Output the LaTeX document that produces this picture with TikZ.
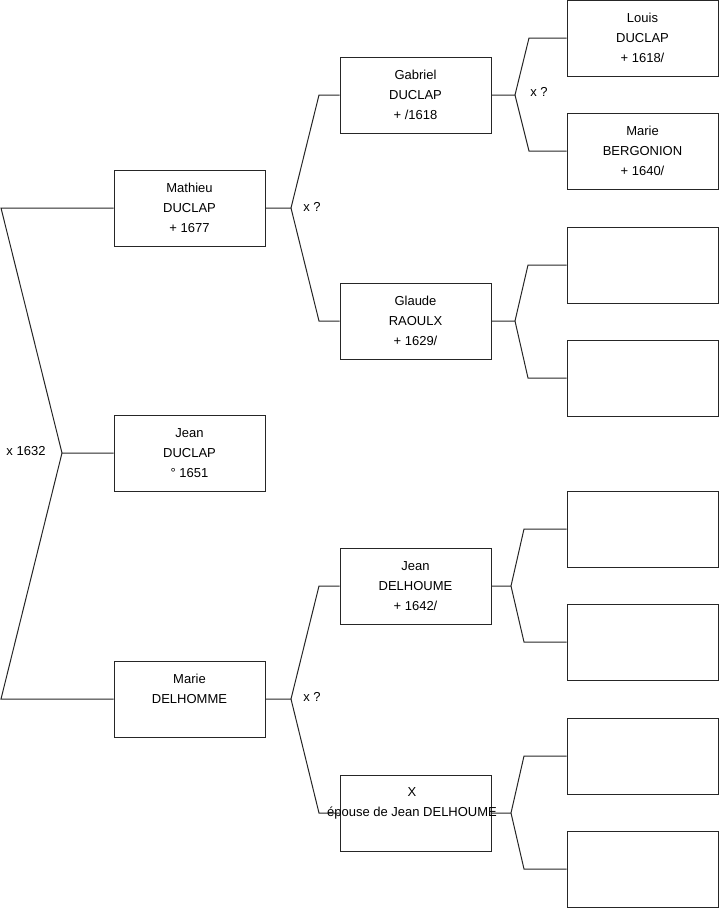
\documentclass[tikz,border=0pt]{standalone}
\usepackage{fontspec}
\setmainfont{Liberation Sans}
\begin{document}
\begin{tikzpicture}[x=1pt,y=-1pt,
  person/.style={draw=black!85,line width=1pt,minimum width=151pt,minimum height=76pt,inner sep=0pt,align=center,font=\fontsize{13}{20}\selectfont},
  lab/.style={inner sep=0pt,font=\fontsize{13}{20}\selectfont},
  conn/.style={draw=black!85,line width=1pt}]
\useasboundingbox (0,0) rectangle (719,908);
% level 1
\node[person] (mathieu) at (189.5,208) {Mathieu\\DUCLAP\\+ 1677};
\node[person] (jean) at (189.5,453) {Jean\\DUCLAP\\° 1651};
\node[person] (marie) at (189.5,699) {Marie\\DELHOMME\\\mbox{}};
% level 2
\node[person] (gabriel) at (415.5,95) {Gabriel\\DUCLAP\\+ /1618};
\node[person] (glaude) at (415.5,321) {Glaude\\RAOULX\\+ 1629/};
\node[person] (jeand) at (415.5,586) {Jean\\DELHOUME\\+ 1642/};
\node[person] (xx) at (415.5,813) {};
% level 3
\node[person] (louis) at (642.5,38) {Louis\\DUCLAP\\+ 1618/};
\node[person] (marieb) at (642.5,151) {Marie\\BERGONION\\+ 1640/};
\node[person] (e1) at (642.5,265) {};
\node[person] (e2) at (642.5,378) {};
\node[person] (e3) at (642.5,529) {};
\node[person] (e4) at (642.5,642) {};
\node[person] (e5) at (642.5,756) {};
\node[person] (e6) at (642.5,869) {};
% connectors
\coordinate (r0) at (1,208);
\coordinate (j0) at (62,453);
\coordinate (r1) at (1,699);
\draw[conn] (mathieu.west) -- (r0) -- (j0) -- (jean.west);
\draw[conn] (j0) -- (r1) -- (marie.west);
\coordinate (jm) at (291,208);
\coordinate (jm1) at (319,95);
\coordinate (jm2) at (319,321);
\draw[conn] (mathieu.east) -- (jm) -- (jm1) -- (gabriel.west);
\draw[conn] (jm) -- (jm2) -- (glaude.west);
\coordinate (jw) at (291,699);
\coordinate (jw1) at (319,586);
\coordinate (jw2) at (319,813);
\draw[conn] (marie.east) -- (jw) -- (jw1) -- (jeand.west);
\draw[conn] (jw) -- (jw2) -- (xx.west);
\coordinate (jg) at (515,95);
\coordinate (jg1) at (529,38);
\coordinate (jg2) at (529,151);
\draw[conn] (gabriel.east) -- (jg) -- (jg1) -- (louis.west);
\draw[conn] (jg) -- (jg2) -- (marieb.west);
\coordinate (jr) at (515,321);
\coordinate (jr1) at (528,265);
\coordinate (jr2) at (528,378);
\draw[conn] (glaude.east) -- (jr) -- (jr1) -- (e1.west);
\draw[conn] (jr) -- (jr2) -- (e2.west);
\coordinate (jd) at (511,586);
\coordinate (jd1) at (524,529);
\coordinate (jd2) at (524,642);
\draw[conn] (jeand.east) -- (jd) -- (jd1) -- (e3.west);
\draw[conn] (jd) -- (jd2) -- (e4.west);
\coordinate (jx) at (511,813);
\coordinate (jx1) at (524,756);
\coordinate (jx2) at (524,869);
\draw[conn] (xx.east) -- (jx) -- (jx1) -- (e5.west);
\draw[conn] (jx) -- (jx2) -- (e6.west);
% text of X box (overflows)
\node[lab,align=center] (xtext) at (412,812) {X\\épouse de Jean DELHOUME\\\mbox{}};
% labels
\node[lab] (l0) at (26,451) {x 1632};
\node[lab] (l1) at (312,207) {x ?};
\node[lab] (l2) at (312,697) {x ?};
\node[lab] (l3) at (539,92) {x ?};
\end{tikzpicture}
\end{document}
